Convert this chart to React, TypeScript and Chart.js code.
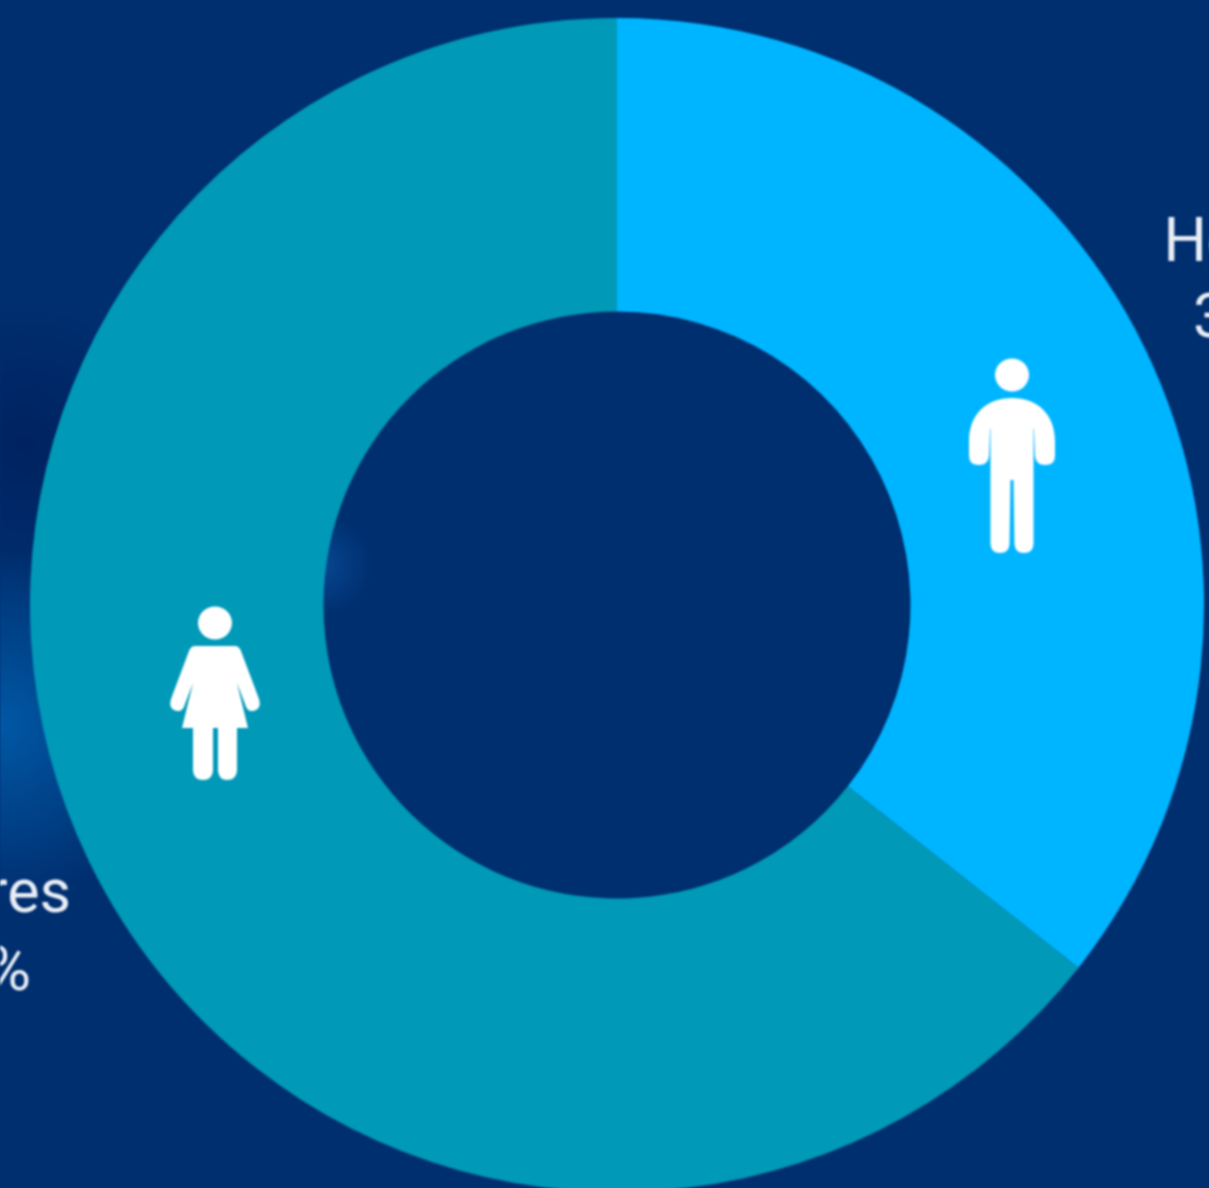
import React, { useEffect, useRef } from "react";
import { Chart, registerables } from "chart.js";

Chart.register(...registerables);

const categories = ["Hombres", "Mujeres"];
const shares = [35.6, 64.4];
const shareLabels = ["35,6%", "64,4%"];
const sliceColors = ["#00b5ff", "#0099b8"];
const BG = "#002f70";
const INK = "#e9eef5";
const FONT = '400 61px Roboto, "Liberation Sans", sans-serif';

function glow(ctx: CanvasRenderingContext2D, x: number, y: number, r: number, color: string, clear: string) {
  const g = ctx.createRadialGradient(x, y, 0, x, y, r);
  g.addColorStop(0, color);
  g.addColorStop(1, clear);
  ctx.fillStyle = g;
  ctx.fillRect(x - r, y - r, 2 * r, 2 * r);
}

function manPath() {
  const p = new Path2D();
  p.ellipse(0, 16, 17, 16.5, 0, 0, Math.PI * 2);
  p.moveTo(0, 39);
  p.bezierCurveTo(26, 39, 43, 56, 43, 82);
  p.lineTo(43, 97);
  p.quadraticCurveTo(43, 106, 33, 106);
  p.quadraticCurveTo(24, 106, 23, 97);
  p.lineTo(22, 70);
  p.lineTo(21.5, 70);
  p.lineTo(21.5, 185);
  p.quadraticCurveTo(21, 194, 12, 194);
  p.quadraticCurveTo(3, 194, 2.5, 185);
  p.lineTo(1.5, 121);
  p.lineTo(-1.5, 121);
  p.lineTo(-2.5, 185);
  p.quadraticCurveTo(-3, 194, -12, 194);
  p.quadraticCurveTo(-21, 194, -21.5, 185);
  p.lineTo(-21.5, 70);
  p.lineTo(-22, 70);
  p.lineTo(-23, 97);
  p.quadraticCurveTo(-24, 106, -33, 106);
  p.quadraticCurveTo(-43, 106, -43, 97);
  p.lineTo(-43, 82);
  p.bezierCurveTo(-43, 56, -26, 39, 0, 39);
  p.closePath();
  return p;
}

function womanPath() {
  const p = new Path2D();
  p.ellipse(0, 16, 17, 16.5, 0, 0, Math.PI * 2);
  p.moveTo(-20, 39);
  p.lineTo(20, 39);
  p.quadraticCurveTo(24, 39, 26, 44);
  p.lineTo(44, 92);
  p.quadraticCurveTo(47, 102, 38, 104);
  p.quadraticCurveTo(32, 105, 30, 97);
  p.lineTo(22, 76);
  p.lineTo(33, 121);
  p.lineTo(22, 121);
  p.lineTo(22, 164);
  p.quadraticCurveTo(21, 173, 12, 173);
  p.quadraticCurveTo(4, 173, 3, 164);
  p.lineTo(3, 121);
  p.lineTo(-2, 121);
  p.lineTo(-2, 164);
  p.quadraticCurveTo(-3, 173, -12, 173);
  p.quadraticCurveTo(-21, 173, -22, 164);
  p.lineTo(-22, 121);
  p.lineTo(-33, 121);
  p.lineTo(-22, 76);
  p.lineTo(-30, 97);
  p.quadraticCurveTo(-32, 105, -38, 104);
  p.quadraticCurveTo(-47, 102, -44, 92);
  p.lineTo(-26, 44);
  p.quadraticCurveTo(-24, 39, -20, 39);
  p.closePath();
  return p;
}

const backdrop = {
  id: "backdrop",
  beforeDraw(chart: any) {
    const { ctx, width, height } = chart;
    ctx.save();
    ctx.fillStyle = BG;
    ctx.fillRect(0, 0, width, height);
    glow(ctx, 25, 445, 150, "rgba(0,30,90,0.75)", "rgba(0,30,90,0)");
    glow(ctx, 0, 725, 175, "rgba(0,88,165,1)", "rgba(0,88,165,0)");
    glow(ctx, 322, 565, 50, "rgba(10,78,155,0.75)", "rgba(10,78,155,0)");
    ctx.restore();
  },
};

const overlay = {
  id: "overlay",
  afterDatasetsDraw(chart: any) {
    const { ctx } = chart;
    const arc = chart.getDatasetMeta(0).data[0];
    const cx = arc.x;
    const cy = arc.y;
    ctx.save();
    ctx.fillStyle = "#ffffff";
    ctx.save();
    ctx.translate(cx + 395, cy - 246);
    ctx.fill(manPath());
    ctx.restore();
    ctx.save();
    ctx.translate(cx - 402, cy + 2);
    ctx.fill(womanPath());
    ctx.restore();

    ctx.fillStyle = INK;
    ctx.font = FONT;
    ctx.textBaseline = "alphabetic";
    ctx.textAlign = "left";
    ctx.fillText(categories[0], cx + 546.5, cy - 344);
    ctx.fillText(shareLabels[0], cx + 576, cy - 268);
    ctx.textAlign = "right";
    ctx.fillText(categories[1], cx - 546, cy + 307);
    ctx.fillText(shareLabels[1], cx - 586, cy + 385);
    ctx.restore();
  },
};

export default function App() {
  const ref = useRef<HTMLCanvasElement>(null);
  useEffect(() => {
    document.body.style.margin = "0";
    document.body.style.background = BG;
    const chart = new Chart(ref.current!, {
      type: "doughnut",
      data: {
        labels: categories,
        datasets: [{ data: shares, backgroundColor: sliceColors, borderWidth: 0 }],
      },
      options: {
        responsive: false,
        animation: false,
        cutout: "50%",
        layout: { padding: 18 },
        plugins: { legend: { display: false }, tooltip: { enabled: false } },
      },
      plugins: [backdrop, overlay],
    } as any);
    return () => chart.destroy();
  }, []);
  return (
    <div style={{ position: "fixed", left: 0, top: 0, width: 1209, height: 1188, overflow: "hidden", background: BG }}>
      <canvas ref={ref} width={1234} height={1210} style={{ display: "block", width: 1234, height: 1210, filter: "blur(0.8px)" }} />
    </div>
  );
}
